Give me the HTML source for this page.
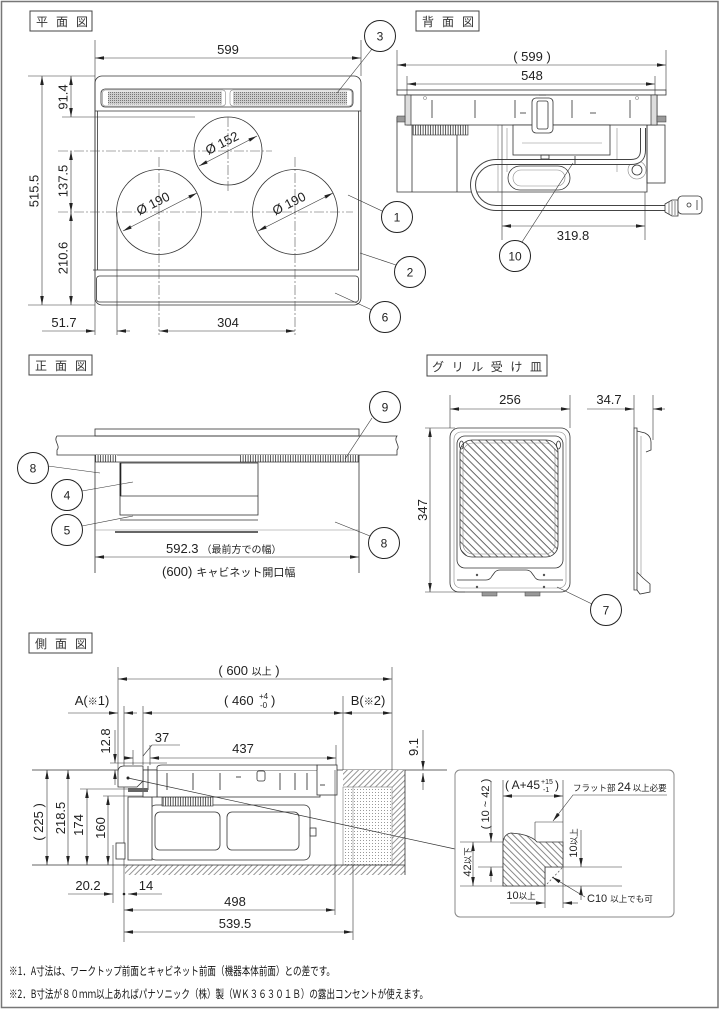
<!DOCTYPE html>
<html><head><meta charset="utf-8"><style>
html,body{margin:0;padding:0;background:#fff}
svg{display:block;font-size:13px}
text{font-family:"Liberation Sans","Noto Sans CJK JP",sans-serif;fill:#222}
.l{stroke:#333;stroke-width:.8;fill:none}
.w{stroke:#333;stroke-width:.8;fill:#fff}
.d{stroke:#333;stroke-width:.6;fill:none}
.g{stroke:#888;stroke-width:.6;fill:none}
.a2{marker-start:url(#ar);marker-end:url(#ar)}
.a1{marker-end:url(#ar)}
.c{stroke:#555;stroke-width:.6;fill:none;stroke-dasharray:10 2 2 2}
.co{stroke:#222;stroke-width:1;fill:#fff}
.cn{font-size:12px;text-anchor:middle}
.m{text-anchor:middle}
.tb{fill:none;stroke:#444;stroke-width:1}
.tt{font-family:"Noto Sans CJK JP",sans-serif;font-size:12px;fill:#333}
.jp{font-family:"Noto Sans CJK JP",sans-serif}
.fn{font-family:"Noto Sans CJK JP",sans-serif;fill:#111}
</style></head><body>
<svg width="720" height="1009" viewBox="0 0 720 1009" xmlns="http://www.w3.org/2000/svg">
<defs>
<marker id="ar" viewBox="0 0 10 4" refX="10" refY="2" markerWidth="9" markerHeight="3.6" markerUnits="userSpaceOnUse" orient="auto-start-reverse"><path d="M0,0 L10,2 L0,4 Z" fill="#222"/></marker>
<pattern id="dt" width="2" height="2" patternUnits="userSpaceOnUse"><rect width="2" height="2" fill="#cdcdcd"/><rect width="1" height="1" fill="#777"/></pattern>
<pattern id="dt2" width="3" height="3" patternUnits="userSpaceOnUse"><rect width="3" height="3" fill="#fff"/><rect width="1" height="1" fill="#999"/></pattern>
<pattern id="rb" width="2.5" height="10" patternUnits="userSpaceOnUse"><rect width="2.5" height="10" fill="#fff"/><line x1="0.6" y1="0" x2="0.6" y2="10" stroke="#444" stroke-width="0.9"/></pattern>
<pattern id="h1" width="4" height="4" patternUnits="userSpaceOnUse" patternTransform="rotate(45)"><rect width="4" height="4" fill="#fff"/><line x1="2" y1="0" x2="2" y2="4" stroke="#666" stroke-width="0.7"/></pattern>
<pattern id="h2" width="4.5" height="4.5" patternUnits="userSpaceOnUse" patternTransform="rotate(-45)"><rect width="4.5" height="4.5" fill="#fff"/><line x1="2" y1="0" x2="2" y2="4.5" stroke="#555" stroke-width="0.7"/></pattern>
<pattern id="st" width="10.6" height="10.6" patternUnits="userSpaceOnUse" patternTransform="rotate(-45)"><rect width="10.6" height="10.6" fill="#fff"/><line x1="0.5" y1="0" x2="0.5" y2="10.6" stroke="#444" stroke-width="0.8"/><line x1="6" y1="0" x2="6" y2="10.6" stroke="#444" stroke-width="0.8"/></pattern>
</defs>

<!-- border -->
<rect x="1.5" y="1.5" width="716.5" height="1006" fill="none" stroke="#777" stroke-width="1.5"/>

<!-- ================= PLAN VIEW ================= -->
<rect class="tb" x="30" y="11" width="62" height="20"/>
<text class="tt" x="36" y="26" letter-spacing="8">平面図</text>

<g class="l">
 <rect x="95" y="76" width="266" height="229" rx="7"/>
 <line x1="95" y1="111" x2="361" y2="111"/>
 <line x1="97.5" y1="111" x2="97.5" y2="270"/>
 <line x1="358.5" y1="111" x2="358.5" y2="270"/>
 <line x1="93" y1="270" x2="359" y2="270"/>
 <rect x="96.5" y="276" width="262" height="26" rx="3"/>
 <rect x="101" y="89" width="252" height="18" rx="4"/>
</g>
<rect x="108" y="91.5" width="114" height="13" fill="url(#dt)"/>
<rect x="233" y="91.5" width="114" height="13" fill="url(#dt)"/>
<rect class="g" x="102.5" y="90" width="123" height="16" rx="3"/>
<rect class="g" x="230" y="90" width="122" height="16" rx="3"/>

<circle class="l" cx="228" cy="151" r="34"/>
<circle class="l" cx="159" cy="212" r="42.5"/>
<circle class="l" cx="295" cy="212" r="42.5"/>
<line class="c" x1="58" y1="151" x2="272" y2="151"/>
<line class="c" x1="58" y1="212" x2="353" y2="212"/>
<line class="c" x1="228" y1="117" x2="228" y2="192"/>
<line class="c" x1="159" y1="157" x2="159" y2="335"/>
<line class="c" x1="295" y1="157" x2="295" y2="335"/>

<line class="d a2" x1="199" y1="166" x2="257" y2="136"/>
<line class="d a2" x1="123" y1="231" x2="197" y2="193"/>
<line class="d a2" x1="258" y1="231" x2="333" y2="193"/>
<text transform="translate(224,147) rotate(-27)" class="m">Ø 152</text>
<text transform="translate(155,207.5) rotate(-27)" class="m">Ø 190</text>
<text transform="translate(291,207.5) rotate(-27)" class="m">Ø 190</text>

<line class="d" x1="95" y1="40" x2="95" y2="335"/>
<line class="d" x1="361" y1="40" x2="361" y2="76"/>
<line class="d a2" x1="95" y1="58" x2="361" y2="58"/>
<text x="228" y="54" class="m">599</text>
<line class="d" x1="28" y1="76" x2="95" y2="76"/>
<line class="d" x1="28" y1="305" x2="95" y2="305"/>
<line class="d" x1="62" y1="117" x2="195" y2="117"/>
<line class="d a2" x1="42" y1="76" x2="42" y2="305"/>
<line class="d a2" x1="71" y1="76" x2="71" y2="117"/>
<line class="d a2" x1="71" y1="151" x2="71" y2="212"/>
<line class="d a2" x1="71" y1="212" x2="71" y2="305"/>
<text transform="translate(38.5,191) rotate(-90)" class="m">515.5</text>
<text transform="translate(67.5,97) rotate(-90)" class="m">91.4</text>
<text transform="translate(67.5,181) rotate(-90)" class="m">137.5</text>
<text transform="translate(67.5,258) rotate(-90)" class="m">210.6</text>
<line class="d" x1="117" y1="212" x2="117" y2="335"/>
<line class="d a1" x1="42" y1="331" x2="95" y2="331"/>
<line class="d a1" x1="130" y1="331" x2="117" y2="331"/>
<line class="d a2" x1="159" y1="331" x2="295" y2="331"/>
<text x="64" y="327" class="m">51.7</text>
<text x="228" y="327" class="m">304</text>

<line class="d" x1="372" y1="49" x2="337" y2="93"/>
<line class="d" x1="382" y1="211" x2="348" y2="195"/>
<line class="d" x1="396" y1="265" x2="360" y2="253"/>
<line class="d" x1="372" y1="310" x2="335" y2="293"/>
<circle class="co" cx="380" cy="36" r="15.5"/><text x="380" y="40.5" class="cn">3</text>
<circle class="co" cx="397" cy="217" r="15.5"/><text x="397" y="221.5" class="cn">1</text>
<circle class="co" cx="410" cy="272" r="15.5"/><text x="410" y="276.5" class="cn">2</text>
<circle class="co" cx="385" cy="317" r="15.5"/><text x="385" y="321.5" class="cn">6</text>

<!-- ================= REAR VIEW ================= -->
<rect class="tb" x="416" y="11" width="63" height="20"/>
<text class="tt" x="422" y="26" letter-spacing="8">背面図</text>
<line class="d" x1="397" y1="50" x2="397" y2="90"/>
<line class="d" x1="666" y1="50" x2="666" y2="90"/>
<line class="d" x1="407" y1="76" x2="407" y2="95"/>
<line class="d" x1="655" y1="76" x2="655" y2="95"/>
<line class="d a2" x1="397" y1="65" x2="666" y2="65"/>
<line class="d a2" x1="407" y1="84" x2="655" y2="84"/>
<text x="532" y="61" class="m">( 599 )</text>
<text x="532" y="80" class="m">548</text>
<rect class="l" x="397" y="90" width="269" height="5"/>

<path class="l" d="M397,117 L397,192 L647,192 L647,125"/>
<rect class="l" x="647" y="125" width="18" height="58"/>
<line class="l" x1="412" y1="125" x2="412" y2="192"/>
<line class="l" x1="457" y1="135" x2="457" y2="192"/>
<line class="g" x1="498" y1="125" x2="498" y2="192"/>
<line class="g" x1="507" y1="128" x2="507" y2="172"/>
<line class="g" x1="617" y1="128" x2="617" y2="172"/>
<rect x="413" y="125" width="55" height="10" fill="url(#rb)" stroke="#333" stroke-width=".6"/>
<rect class="w" x="407" y="95" width="250" height="30"/>
<rect x="405" y="95" width="6" height="30" fill="#ddd" stroke="#333" stroke-width=".7"/>
<rect x="651" y="95" width="6" height="30" fill="#ddd" stroke="#333" stroke-width=".7"/>
<rect x="397" y="116" width="8" height="6" fill="#999" stroke="#333" stroke-width=".5"/>
<rect x="657" y="116" width="9" height="6" fill="#999" stroke="#333" stroke-width=".5"/>
<g stroke="#888" stroke-width="1.4">
 <line x1="432" y1="100" x2="432" y2="118"/><line x1="475" y1="100" x2="475" y2="118"/>
 <line x1="515" y1="100" x2="515" y2="118"/><line x1="572" y1="100" x2="572" y2="118"/>
 <line x1="630" y1="100" x2="630" y2="118"/>
 <line x1="520" y1="113" x2="526" y2="113"/><line x1="590" y1="113" x2="596" y2="113"/>
</g>
<circle class="g" cx="425" cy="98" r="1.5"/><circle class="g" cx="637" cy="98" r="1.5"/>
<rect class="w" x="513" y="125" width="97" height="30"/>
<line class="g" x1="522" y1="143" x2="602" y2="143"/>
<rect class="w" x="532" y="98" width="21" height="35" rx="4"/>
<rect class="l" x="537" y="101" width="11" height="28" rx="2"/>
<line class="l" x1="539" y1="95" x2="546" y2="95"/>
<rect class="w" x="508" y="166" width="62" height="24" rx="12"/>
<rect class="g" x="513" y="170" width="52" height="16" rx="8"/>
<circle class="l" cx="637" cy="170" r="5"/>
<circle class="g" cx="637" cy="170" r="9"/>
<rect class="l" x="541" y="155" width="8" height="4"/>
<path d="M643,128 L643,150 Q643,162 631,162 L496,162 A23,23 0 0 0 496,208 L668,208" stroke="#444" stroke-width="6" fill="none"/>
<path d="M643,128 L643,150 Q643,162 631,162 L496,162 A23,23 0 0 0 496,208 L668,208" stroke="#fff" stroke-width="4" fill="none"/>
<line class="l" x1="575" y1="156" x2="575" y2="164"/>
<path class="w" d="M665,204 L672,200 L678,200 L678,216 L672,216 L665,212 Z"/>
<g stroke="#555" stroke-width=".7"><line x1="669" y1="202" x2="669" y2="214"/><line x1="672" y1="201" x2="672" y2="215"/><line x1="675" y1="201" x2="675" y2="215"/></g>
<rect class="w" x="678" y="196" width="24" height="18" rx="4"/>
<circle class="l" cx="689" cy="205" r="2"/>
<line class="l" x1="697" y1="200" x2="697" y2="210"/>

<line class="d" x1="502" y1="125" x2="502" y2="240"/>
<line class="d" x1="645" y1="192" x2="645" y2="240"/>
<line class="d a2" x1="502" y1="226" x2="645" y2="226"/>
<text x="573" y="240" class="m">319.8</text>
<line class="d" x1="522" y1="242" x2="573" y2="163"/>
<circle class="co" cx="515" cy="256" r="15.5"/><text x="515" y="260.5" class="cn">10</text>

<!-- ================= FRONT VIEW ================= -->
<rect class="tb" x="29" y="355" width="63" height="20"/>
<text class="tt" x="35" y="370" letter-spacing="8">正面図</text>
<rect class="l" x="95" y="429" width="264" height="7"/>
<path class="l" d="M57,436 L397,436 C393,441 401,446 397,450 L397,455 L57,455 L57,450 C61,446 53,441 57,436 Z"/>
<rect x="95" y="455" width="22" height="7" fill="url(#rb)"/>
<rect x="240" y="455" width="119" height="7" fill="url(#rb)"/>
<line class="l" x1="95" y1="462" x2="359" y2="462"/>
<line class="l" x1="95" y1="455" x2="95" y2="573"/>
<line class="l" x1="359" y1="455" x2="359" y2="573"/>
<rect class="l" x="120" y="463" width="138" height="52"/>
<line class="l" x1="120" y1="496" x2="258" y2="496"/>
<line stroke="#222" stroke-width="1.6" x1="120.5" y1="463" x2="120.5" y2="496"/>
<line class="l" x1="120" y1="520" x2="258" y2="520"/>
<line class="g" x1="95" y1="530" x2="359" y2="530"/>
<line stroke="#333" stroke-width="1.5" x1="115" y1="532" x2="258" y2="532"/>
<line class="d a2" x1="95" y1="557" x2="359" y2="557"/>
<text x="166" y="553">592.3<tspan class="jp" font-size="10" dx="3">（最前方での幅）</tspan></text>
<text x="162" y="576">(600)<tspan class="jp" font-size="11" dx="4">キャビネット開口幅</tspan></text>

<line class="d" x1="48" y1="466" x2="100" y2="473"/>
<line class="d" x1="82" y1="491" x2="133" y2="482"/>
<line class="d" x1="82" y1="526" x2="133" y2="516"/>
<line class="d" x1="370" y1="536" x2="335" y2="522"/>
<line class="d" x1="372" y1="418" x2="345" y2="459"/>
<circle class="co" cx="33" cy="468" r="15.5"/><text x="33" y="472.5" class="cn">8</text>
<circle class="co" cx="67" cy="495" r="15.5"/><text x="67" y="499.5" class="cn">4</text>
<circle class="co" cx="67" cy="530" r="15.5"/><text x="67" y="534.5" class="cn">5</text>
<circle class="co" cx="384" cy="543" r="15.5"/><text x="384" y="547.5" class="cn">8</text>
<circle class="co" cx="385" cy="407" r="15.5"/><text x="385" y="411.5" class="cn">9</text>

<!-- ================= GRILL PAN ================= -->
<rect class="tb" x="427" y="355" width="120" height="21"/>
<text class="tt" x="432" y="371" letter-spacing="7.6">グリル受け皿</text>
<line class="d" x1="450" y1="395" x2="450" y2="428"/>
<line class="d" x1="570" y1="395" x2="570" y2="428"/>
<line class="d a2" x1="450" y1="409" x2="570" y2="409"/>
<text x="510" y="404" class="m">256</text>
<line class="d" x1="425" y1="428" x2="455" y2="428"/>
<line class="d" x1="425" y1="592" x2="465" y2="592"/>
<line class="d a2" x1="430" y1="428" x2="430" y2="592"/>
<text transform="translate(427,510) rotate(-90)" class="m">347</text>

<rect class="l" x="450" y="428" width="120" height="164" rx="9"/>
<rect class="g" x="454" y="432" width="112" height="156" rx="7"/>
<rect class="l" x="457" y="436" width="106" height="132" rx="8"/>
<path class="l" d="M457,580 L486,580 Q490,580 492,576 L495,572 Q497,570 500,570 L526,570 Q529,570 531,572 L534,576 Q536,580 540,580 L563,580"/>
<rect x="460" y="440" width="98" height="117" rx="12" fill="url(#st)" stroke="#333" stroke-width=".8"/>
<rect class="g" x="463" y="443" width="92" height="111" rx="10"/>
<ellipse class="l" cx="461.5" cy="445" rx="2" ry="4"/>
<ellipse class="l" cx="558.5" cy="445" rx="2" ry="4"/>
<g fill="#555"><circle cx="477" cy="575" r="1.2"/><circle cx="544" cy="575" r="1.2"/><circle cx="477" cy="587" r="1.2"/><circle cx="544" cy="587" r="1.2"/></g>
<rect x="482" y="592" width="15" height="4" fill="#999" stroke="#444" stroke-width=".5"/>
<rect x="525" y="592" width="15" height="4" fill="#999" stroke="#444" stroke-width=".5"/>

<line class="d" x1="634" y1="395" x2="634" y2="428"/>
<line class="d" x1="653" y1="395" x2="653" y2="440"/>
<line class="d a1" x1="587" y1="409" x2="634" y2="409"/>
<line class="d a1" x1="665" y1="409" x2="653" y2="409"/>
<text x="609" y="404" class="m">34.7</text>
<path class="l" d="M634,428 L637,428 L637,590 L634,590 Z"/>
<line class="g" x1="641" y1="436" x2="641" y2="575"/>
<path class="l" d="M637,431 L645,433 Q651,436 651,442 L651,450 L646,452"/>
<path class="l" d="M637,572 L643,578 L650,584 L650,592 L640,594 L637,590"/>
<line class="d" x1="592" y1="604" x2="557" y2="587"/>
<circle class="co" cx="606" cy="610" r="15.5"/><text x="606" y="614.5" class="cn">7</text>

<!-- ================= SIDE VIEW ================= -->
<rect class="tb" x="29" y="633" width="63" height="20"/>
<text class="tt" x="35" y="648" letter-spacing="8">側面図</text>

<line class="d" x1="118" y1="667" x2="118" y2="775"/>
<line class="d" x1="392" y1="667" x2="392" y2="770"/>
<line class="d" x1="343" y1="696" x2="343" y2="770"/>
<line class="d" x1="124" y1="706" x2="124" y2="942"/>
<line class="d" x1="143" y1="706" x2="143" y2="765"/>
<line class="d a2" x1="118" y1="679" x2="392" y2="679"/>
<text x="249" y="675" class="m">( 600 <tspan class="jp" font-size="10">以上</tspan> )</text>
<line class="d a1" x1="68" y1="713" x2="118" y2="713"/>
<line class="d a1" x1="137" y1="713" x2="124" y2="713"/>
<line class="d a2" x1="143" y1="713" x2="343" y2="713"/>
<line class="d a2" x1="343" y1="713" x2="392" y2="713"/>
<text x="92" y="705" class="m">A(<tspan class="jp" font-size="10">※</tspan>1)</text>
<text x="368" y="705" class="m">B(<tspan class="jp" font-size="10">※</tspan>2)</text>
<text x="224" y="705">( 460</text>
<text x="259" y="699" font-size="8">+4</text>
<text x="260" y="708" font-size="8">-0</text>
<text x="271" y="705">)</text>

<line class="d" x1="110" y1="763" x2="167" y2="763"/>
<line class="d a1" x1="115" y1="730" x2="115" y2="763"/>
<line class="d a1" x1="115" y1="785" x2="115" y2="770"/>
<text transform="translate(110,741) rotate(-90)" class="m">12.8</text>
<line class="d" x1="133" y1="750" x2="133" y2="765"/>
<line class="d" x1="150" y1="745" x2="150" y2="765"/>
<line class="d" x1="336" y1="745" x2="336" y2="770"/>
<line class="d a1" x1="124" y1="758" x2="133" y2="758"/>
<line class="d a2" x1="150" y1="758" x2="336" y2="758"/>
<text x="243" y="753" class="m">437</text>
<path class="d" d="M143,756 L152,745 L180,745"/>
<text x="162" y="742" class="m">37</text>

<line class="l" x1="32" y1="770" x2="447" y2="770"/>
<line class="d a1" x1="423" y1="730" x2="423" y2="770"/>
<line class="d a1" x1="423" y1="790" x2="423" y2="773"/>
<text transform="translate(418,747) rotate(-90)" class="m">9.1</text>

<!-- walls -->
<rect x="125" y="865" width="280" height="10" fill="url(#h1)"/>
<rect x="343" y="770" width="62" height="105" fill="url(#h1)"/>
<rect x="343" y="787" width="49" height="78" fill="url(#dt2)" stroke="#666" stroke-width=".5"/>
<line class="g" x1="353" y1="787" x2="353" y2="865"/>
<line class="l" x1="405" y1="770" x2="405" y2="875"/>
<line class="l" x1="32" y1="865" x2="405" y2="865"/>

<!-- left dims -->
<line class="d" x1="80" y1="789" x2="150" y2="789"/>
<line class="d" x1="103" y1="796" x2="145" y2="796"/>
<line class="d a2" x1="47" y1="770" x2="47" y2="865"/>
<line class="d a2" x1="68" y1="770" x2="68" y2="865"/>
<line class="d a2" x1="87" y1="789" x2="87" y2="865"/>
<line class="d a2" x1="108" y1="796" x2="108" y2="865"/>
<text transform="translate(43,822) rotate(-90)" class="m">( 225 )</text>
<text transform="translate(65,818) rotate(-90)" class="m">218.5</text>
<text transform="translate(83,825) rotate(-90)" class="m">174</text>
<text transform="translate(105,828) rotate(-90)" class="m">160</text>

<!-- cooktop side -->
<rect class="w" x="150" y="805" width="160" height="55" rx="6"/>
<path class="w" d="M128,797 L152,797 L152,860 L128,860 Z"/>
<rect class="w" x="116" y="843" width="9" height="16"/>
<rect class="w" x="155" y="812" width="65" height="38" rx="5"/>
<rect class="w" x="227" y="812" width="72" height="38" rx="5"/>
<rect x="162" y="797" width="51" height="9" fill="url(#rb)" stroke="#333" stroke-width=".6"/>
<rect class="w" x="157" y="770" width="163" height="27"/>
<rect class="w" x="317" y="765" width="20" height="30"/>
<path class="w" d="M157,770 L157,767 Q158,765 162,765 L317,765 L317,770"/>
<rect class="w" x="143" y="770" width="14" height="27"/>
<line class="l" x1="148" y1="766" x2="148" y2="790"/>
<rect x="128" y="788" width="20" height="4" fill="#666"/>
<g stroke="#777" stroke-width="1.3">
 <line x1="167" y1="773" x2="167" y2="790"/><line x1="193" y1="773" x2="193" y2="790"/>
 <line x1="220" y1="773" x2="220" y2="790"/><line x1="280" y1="773" x2="280" y2="790"/>
 <line x1="295" y1="773" x2="295" y2="790"/><line x1="307" y1="773" x2="307" y2="790"/>
 <line x1="236" y1="777" x2="241" y2="777"/><line x1="320" y1="785" x2="325" y2="785"/>
</g>
<rect class="l" x="257" y="771" width="8" height="10" rx="2"/>
<path class="w" d="M118,787 L118,772 Q118,766 124,766 L143,766 L143,781 L137,787 Z" fill="url(#h2)"/>
<circle cx="128" cy="778" r="1.5" fill="#222"/>
<line stroke="#333" stroke-width=".7" x1="128" y1="778" x2="455" y2="849"/>
<rect class="l" x="310" y="828" width="6" height="8"/>

<!-- bottom dims -->
<line class="d" x1="113" y1="845" x2="113" y2="903"/>
<line class="d a1" x1="68" y1="894" x2="113" y2="894"/>
<circle cx="124" cy="894" r="1.3" fill="#222"/>
<line class="d a1" x1="162" y1="894" x2="128" y2="894"/>
<text x="88" y="890" class="m">20.2</text>
<text x="146" y="890" class="m">14</text>
<line class="d" x1="335" y1="770" x2="335" y2="915"/>
<line class="d" x1="353" y1="865" x2="353" y2="940"/>
<line class="d a2" x1="124" y1="910" x2="335" y2="910"/>
<line class="d a2" x1="124" y1="932" x2="353" y2="932"/>
<text x="235" y="906" class="m">498</text>
<text x="235" y="928" class="m">539.5</text>

<!-- ================= DETAIL BOX ================= -->
<rect x="455" y="770" width="219" height="147" rx="5" fill="none" stroke="#888" stroke-width="1"/>
<line class="d" x1="503" y1="780" x2="503" y2="886"/>
<line class="d" x1="563" y1="780" x2="563" y2="908"/>
<line class="d a2" x1="503" y1="796" x2="563" y2="796"/>
<text x="505" y="789" font-size="12">( A+45</text>
<text x="541" y="784" font-size="7">+15</text>
<text x="543" y="792" font-size="7">-1</text>
<text x="555" y="789" font-size="12">)</text>
<path class="d" d="M667,795 L573,795 L553,821" marker-end="url(#ar)"/>
<text x="573" y="791" font-size="12"><tspan class="jp" font-size="8.5">フラット部 </tspan>24<tspan class="jp" font-size="8.5"> 以上必要</tspan></text>
<line class="d" x1="535" y1="822" x2="535" y2="842"/>
<line class="d" x1="535" y1="822" x2="563" y2="822"/>
<line class="d" x1="460" y1="842" x2="503" y2="842"/>
<line class="d" x1="478" y1="867" x2="622" y2="867"/>
<line class="d" x1="460" y1="886" x2="622" y2="886"/>
<line class="d" x1="545" y1="867" x2="545" y2="908"/>
<path d="M503,886 L503,842 Q504,834 511,833 L520,834 Q530,836 535,840 L537,842 L563,842 L563,867 L545,867 L545,886 Z" fill="url(#h2)" stroke="#333" stroke-width=".8"/>
<line x1="547" y1="884" x2="562" y2="868" stroke="#555" stroke-dasharray="2 2" stroke-width=".7"/>
<line class="d" x1="491" y1="782" x2="491" y2="826"/>
<line class="d a1" x1="491" y1="826" x2="491" y2="842"/>
<line class="d a1" x1="491" y1="882" x2="491" y2="867"/>
<text transform="translate(489,804) rotate(-90)" class="m" font-size="11">( 10 ~ 42 )</text>
<line class="d a2" x1="473" y1="842" x2="473" y2="886"/>
<text transform="translate(471,862) rotate(-90)" class="m" font-size="11">42<tspan class="jp" font-size="8.5">以下</tspan></text>
<line class="d a1" x1="581" y1="830" x2="581" y2="867"/>
<line class="d a1" x1="581" y1="900" x2="581" y2="886"/>
<text transform="translate(577,843) rotate(-90)" class="m" font-size="11">10<tspan class="jp" font-size="8.5">以上</tspan></text>
<line class="d a1" x1="510" y1="903" x2="545" y2="903"/>
<line class="d a1" x1="578" y1="903" x2="563" y2="903"/>
<text x="521" y="899" class="m" font-size="11">10<tspan class="jp" font-size="8.5">以上</tspan></text>
<line class="d a1" x1="585" y1="897" x2="552" y2="877"/>
<text x="587" y="902" font-size="11">C10 <tspan class="jp" font-size="8.5">以上でも可</tspan></text>

<!-- ================= FOOTNOTES ================= -->
<text x="9" y="975" class="fn" font-size="11.5" textLength="326" lengthAdjust="spacingAndGlyphs">※1．A寸法は、ワークトップ前面とキャビネット前面（機器本体前面）との差です。</text>
<text x="9" y="998" class="fn" font-size="11.5" textLength="419" lengthAdjust="spacingAndGlyphs">※2．B寸法が８０ｍｍ以上あればパナソニック（株）製（ＷＫ３６３０１Ｂ）の露出コンセントが使えます。</text>
</svg>
</body></html>
